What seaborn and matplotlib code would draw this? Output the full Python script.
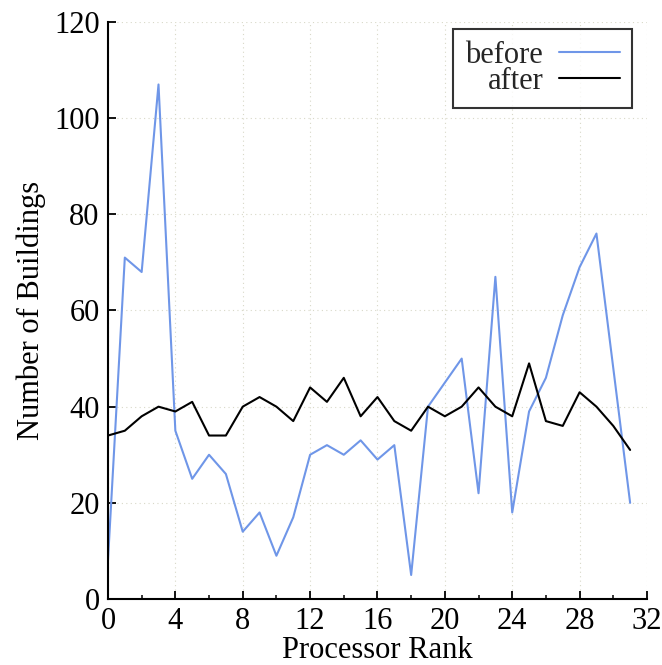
import pandas as pd
import matplotlib.pyplot as plt
import seaborn as sns
from matplotlib.ticker import MultipleLocator

ranks = list(range(32))
before = [8, 71, 68, 107, 35, 25, 30, 26, 14, 18, 9, 17, 30, 32, 30, 33,
          29, 32, 5, 40, 45, 50, 22, 67, 18, 39, 46, 59, 69, 76, 48, 20]
after = [34, 35, 38, 40, 39, 41, 34, 34, 40, 42, 40, 37, 44, 41, 46, 38,
         42, 37, 35, 40, 38, 40, 44, 40, 38, 49, 37, 36, 43, 40, 36, 31]

df = pd.DataFrame({
    'rank': ranks * 2,
    'buildings': before + after,
    'series': ['before'] * 32 + ['after'] * 32,
})

sns.set_theme(style="ticks")
plt.rcParams['font.family'] = ['Liberation Serif', 'DejaVu Serif']

fs = 22
fig = plt.figure(figsize=(6.62, 6.65), dpi=100)
ax = fig.add_axes([0.1631, 0.0992, 0.8142, 0.8678])

sns.lineplot(data=df, x='rank', y='buildings', hue='series',
             palette={'before': '#6f96e8', 'after': 'black'},
             linewidth=1.5, ax=ax)

ax.set_xlim(0, 32)
ax.set_ylim(0, 120)
ax.xaxis.set_major_locator(MultipleLocator(4))
ax.xaxis.set_minor_locator(MultipleLocator(2))
ax.yaxis.set_major_locator(MultipleLocator(20))
ax.grid(True, which='major', linestyle=(0, (1, 3)), color='#d8d8c8', linewidth=0.8)
ax.tick_params(which='major', direction='in', length=6, width=1.3,
               labelsize=fs, pad=6, colors='black')
ax.tick_params(which='minor', direction='in', length=3, width=1.3)
for s in ['top', 'right']:
    ax.spines[s].set_visible(False)
for s in ['left', 'bottom']:
    ax.spines[s].set_linewidth(1.5)
    ax.spines[s].set_color('black')
ax.set_xlabel('Processor Rank', fontsize=fs, labelpad=0, color='black')
ax.set_ylabel('Number of Buildings', fontsize=fs, labelpad=6, color='black')

# gnuplot-style key: label right-aligned, sample line on the right
leg = ax.legend(loc='upper right', markerfirst=False, fontsize=fs, frameon=True,
                fancybox=False, edgecolor='black', handlelength=2.0,
                borderpad=0.4, labelspacing=-0.1, handletextpad=0.5,
                borderaxespad=0, bbox_to_anchor=(0.972, 0.988))
leg.get_frame().set_linewidth(1.5)
leg._legend_box.align = 'right'
for t in leg.get_texts():
    t.set_ha('right')

fig.savefig('out.png', dpi=100)
